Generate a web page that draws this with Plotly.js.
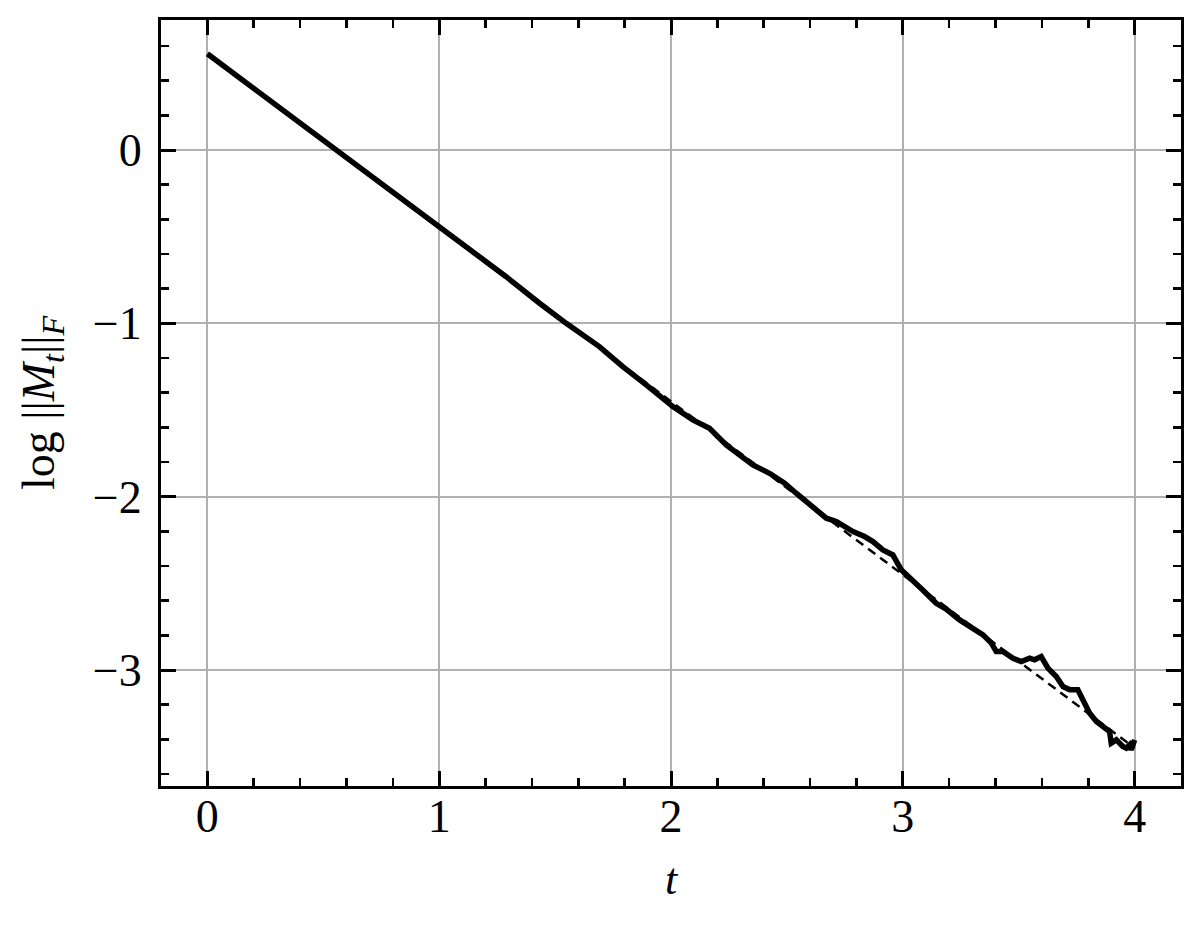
<!DOCTYPE html>
<html>
<head>
<meta charset="utf-8">
<script src="https://cdn.plot.ly/plotly-3.0.1.min.js"></script>
<style>html,body{margin:0;padding:0;background:#fff;}#chart{width:1200px;height:927px;}</style>
</head>
<body>
<div id="chart"></div>
<script>
// Solid curve: log ||M_t||_F
const tValues = [0, 0.25, 0.5, 0.75, 1.0, 1.145, 1.289, 1.433, 1.548, 1.691, 1.792, 1.893, 2.008, 2.094, 2.166, 2.238, 2.296, 2.353, 2.425, 2.490, 2.540, 2.612, 2.670, 2.713, 2.749, 2.785, 2.835, 2.871, 2.914, 2.957, 2.993, 3.043, 3.087, 3.144, 3.187, 3.245, 3.302, 3.346, 3.382, 3.403, 3.432, 3.475, 3.511, 3.547, 3.568, 3.597, 3.626, 3.662, 3.691, 3.720, 3.755, 3.777, 3.806, 3.835, 3.863, 3.892, 3.899, 3.921, 3.949, 3.964, 3.978, 3.985, 4.000];
const logNorm = [0.555, 0.306, 0.057, -0.192, -0.441, -0.586, -0.731, -0.884, -1.000, -1.134, -1.250, -1.355, -1.480, -1.557, -1.605, -1.701, -1.755, -1.817, -1.865, -1.922, -1.980, -2.057, -2.124, -2.143, -2.172, -2.201, -2.230, -2.259, -2.307, -2.336, -2.422, -2.490, -2.540, -2.615, -2.648, -2.711, -2.759, -2.797, -2.845, -2.893, -2.893, -2.932, -2.951, -2.932, -2.941, -2.922, -2.989, -3.037, -3.095, -3.114, -3.114, -3.172, -3.249, -3.297, -3.326, -3.355, -3.422, -3.403, -3.441, -3.451, -3.432, -3.461, -3.403];
// Dashed reference line
const fitT = [0, 4];
const fitY = [0.55, -3.45];

const xTicks = [0, 1, 2, 3, 4];
const yTicks = [-3, -2, -1, 0];

const xTitle = '<i>t</i>';
const yTitle = 'log ||<i>M</i><sub><i>t</i></sub>||<sub><i>F</i></sub>';

const font = {family: 'Liberation Serif', color: '#000'};

const traces = [
  {x: fitT, y: fitY, mode: 'lines', line: {color: '#000', width: 2.5, dash: '9px,6px'}, hoverinfo: 'skip', showlegend: false},
  {x: tValues, y: logNorm, mode: 'lines', line: {color: '#000', width: 5.5}, showlegend: false}
];

function axisBase() {
  return {
    showline: true, linecolor: '#000', linewidth: 3, mirror: 'ticks',
    ticks: 'inside', ticklen: 15, tickwidth: 3, tickcolor: '#000',
    showgrid: true, gridcolor: '#b0b0b0', gridwidth: 2, zeroline: false,
    tickfont: {family: 'Liberation Serif', size: 46, color: '#000'},
    minor: {dtick: 0.2, ticks: 'inside', ticklen: 8, tickwidth: 2.5, tickcolor: '#000', showgrid: false}
  };
}

const layout = {
  width: 1200, height: 927,
  margin: {l: 161, r: 19, t: 20, b: 141},
  paper_bgcolor: '#fff', plot_bgcolor: '#fff',
  font: font,
  xaxis: Object.assign(axisBase(), {
    range: [-0.2, 4.2], tickvals: xTicks, ticktext: xTicks.map(String),
    ticklabelstandoff: -12,
    title: {text: xTitle, font: {family: 'Liberation Serif', size: 44, color: '#000'}, standoff: 22}
  }),
  yaxis: Object.assign(axisBase(), {
    range: [-3.669, 0.75], tickvals: yTicks, ticktext: yTicks.map(v => v < 0 ? '\u2212' + Math.abs(v) : String(v)),
    ticklabelstandoff: 7
  }),
  annotations: [{
    text: yTitle, xref: 'paper', yref: 'paper', x: 0, y: 0.5,
    xanchor: 'center', yanchor: 'middle', xshift: -119, textangle: -90,
    showarrow: false, font: {family: 'Liberation Serif', size: 46, color: '#000'}
  }]
};

Plotly.newPlot('chart', traces, layout, {displayModeBar: false, staticPlot: true});
</script>
</body>
</html>
